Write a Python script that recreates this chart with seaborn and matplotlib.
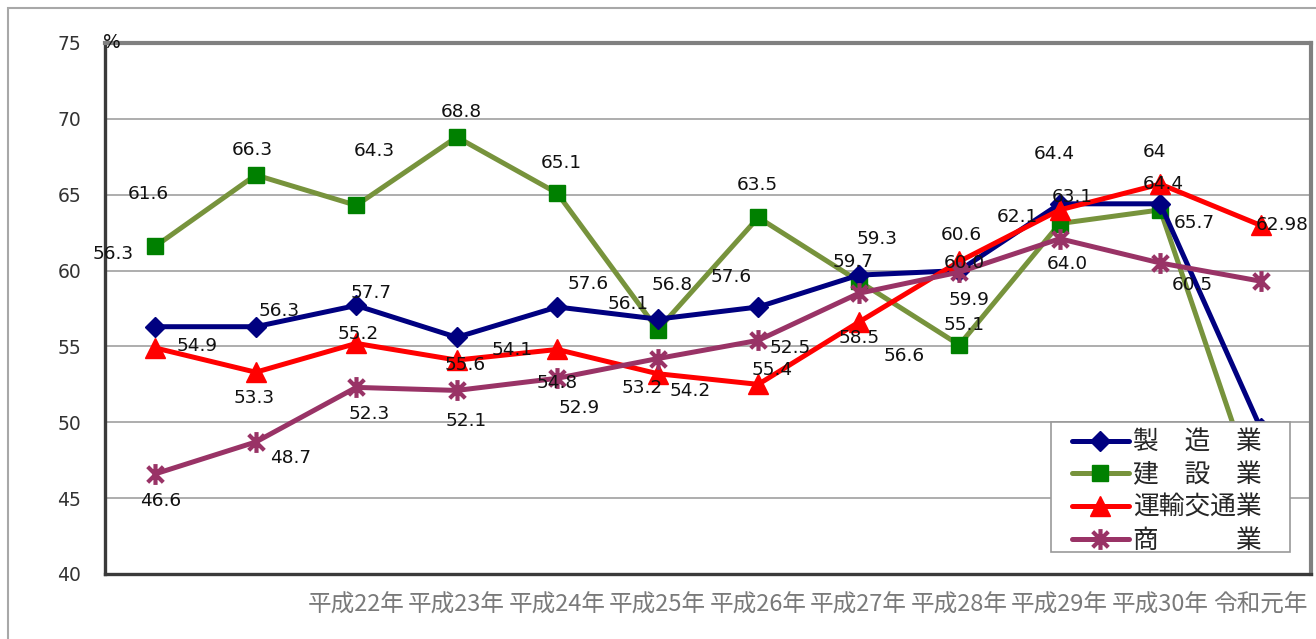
import numpy as np
import pandas as pd
import matplotlib
matplotlib.use("Agg")
import matplotlib.pyplot as plt
from matplotlib.path import Path
from matplotlib.patches import Rectangle
from matplotlib.lines import Line2D
import seaborn as sns

# ---- data -------------------------------------------------------------
years = ["", "", "平成22年", "平成23年", "平成24年", "平成25年", "平成26年",
         "平成27年", "平成28年", "平成29年", "平成30年", "令和元年"]
seizo = [56.3, 56.3, 57.7, 55.6, 57.6, 56.8, 57.6, 59.7, 60.0, 64.4, 64.4, 49.6]
kensetsu = [61.6, 66.3, 64.3, 68.8, 65.1, 56.1, 63.5, 59.3, 55.1, 63.1, 64, 44.5]
unyu = [54.9, 53.3, 55.2, 54.1, 54.8, 53.2, 52.5, 56.6, 60.6, 64.0, 65.7, 62.98]
shogyo = [46.6, 48.7, 52.3, 52.1, 52.9, 54.2, 55.4, 58.5, 59.9, 62.1, 60.5, 59.3]
names = ["製　造　業", "建　設　業", "運輸交通業", "商　　　業"]

# value-label placement (pixel offsets from each point, +dy = downwards);
# None = label sits behind the legend box and is not drawn
lab_seizo = [(-42, -73), (23, -16), (15, -12), (8, 28), (31, -23), (14, -34),
             (-27, -30), (-6, -13), (5, -8), (-5, -50), (3, -20), None]
lab_kensetsu = [(-7, -52), (-3, -25), (18, -54), (5, -25), (4, -30), (-30, -26),
                (-1, -32), (18, -42), (5, -20), (13, -27), (-6, -58), None]
lab_unyu = [(42, -2), (-2, 26), (2, -9), (55, -10), (0, 34), (-16, 14),
            (32, -36), (45, 34), (2, -26), (8, 54), (34, 39), (21, 0)]
lab_shogyo = [(5, 27), (35, 16), (13, 27), (9, 31), (22, 30), (32, 32),
              (14, 30), (0, 45), (10, 28), (-42, -22), (32, 22), None]

# ---- styling ----------------------------------------------------------
sns.set_theme(style="white")
plt.rcParams["font.family"] = ["DejaVu Sans", "Noto Sans CJK JP"]

W, H = 1316, 639
fig = plt.figure(figsize=(W / 100, H / 100), dpi=100)
ax = fig.add_axes([105 / W, 1 - 574 / H, (1311 - 105) / W, (574 - 43) / H])

# Excel-style asterisk: vertical bar plus an X
star = Path([(0, -1), (0, 1), (-0.75, -0.75), (0.75, 0.75), (-0.75, 0.75), (0.75, -0.75)],
            [Path.MOVETO, Path.LINETO, Path.MOVETO, Path.LINETO, Path.MOVETO, Path.LINETO])

x = np.arange(len(years))
series = [
    (kensetsu, names[1], "#77933C", "s", "#008000", 12, 1, lab_kensetsu),
    (seizo, names[0], "#000080", "D", "#000080", 10.5, 1, lab_seizo),
    (unyu, names[2], "#FF0000", "^", "#FF0000", 14, 1, lab_unyu),
    (shogyo, names[3], "#993366", star, "#993366", 15, 3, lab_shogyo),
]
handles = {}
for vals, name, lc, mk, mc, ms, mew, offs in series:
    df = pd.DataFrame({"x": x, "v": vals})
    sns.lineplot(data=df, x="x", y="v", ax=ax, color=lc, lw=3.6, marker=mk,
                 markersize=ms, markerfacecolor=mc, markeredgecolor=mc,
                 markeredgewidth=mew, sort=False, legend=False, zorder=3)
    for xi, v, off in zip(x, vals, offs):
        if off is None:
            continue
        dx, dy = off
        ax.annotate(str(v), (xi, v), xytext=(dx, -dy), textcoords="offset pixels",
                    ha="center", va="center", fontsize=13.3, color="#111111",
                    zorder=4)
    handles[name] = Line2D([], [], color=lc, lw=3.6, marker=mk, markersize=ms,
                           markerfacecolor=mc, markeredgecolor=mc,
                           markeredgewidth=mew)

ax.set_xlim(-0.5, 11.5)
ax.set_ylim(40, 75)
ax.set_yticks(np.arange(40, 76, 5))
ax.set_xticks(x)
ax.set_xticklabels(years, fontsize=17, color="#7a7a7a",
                   family=["Noto Sans CJK JP", "DejaVu Sans"])
ax.set_xticks(np.arange(0.5, 11, 1), minor=True)
ax.set_xlabel("")
ax.set_ylabel("")
ax.tick_params(axis="x", which="major", length=0, pad=14)
ax.tick_params(axis="x", which="minor", length=6, width=1.2, direction="inout",
               color="#222222")
ax.tick_params(axis="y", length=0, pad=17, labelsize=13.5, labelcolor="#333333")
ax.yaxis.grid(True, color="#a0a0a0", lw=1.2)
ax.set_axisbelow(True)

for side in ("top", "right"):
    ax.spines[side].set_color("#808080")
    ax.spines[side].set_linewidth(3)
for side in ("left", "bottom"):
    ax.spines[side].set_color("#3a3a3a")
    ax.spines[side].set_linewidth(2.4)
for sp in ax.spines.values():
    sp.set_visible(True)
    sp.set_zorder(2.5)

ax.text(0.006, 1.0, "%", transform=ax.transAxes, ha="center", va="center",
        fontsize=13.5, color="#111111")

# legend box (opaque, covers the lines beneath it)
ax.add_patch(Rectangle((0.784, 0.041), 0.199, 0.245, transform=ax.transAxes,
                       facecolor="white", edgecolor="#999999", lw=1.2,
                       zorder=5, clip_on=False))
leg = ax.legend([handles[n] for n in names], names, loc="upper left",
                bbox_to_anchor=(0.802, 0.272), borderaxespad=0, borderpad=0,
                frameon=False, handlelength=2.2, labelspacing=0.26,
                handletextpad=0.15,
                prop={"family": ["Noto Sans CJK JP"], "size": 18.5})
leg.set_zorder(6)

# outer chart-area frame
fig.add_artist(Rectangle((8 / W, -0.5), 2, 1.5 - 8 / H, transform=fig.transFigure,
                         fill=False, edgecolor="#a8a8a8", lw=1.5))

fig.savefig("out.png", dpi=100)
